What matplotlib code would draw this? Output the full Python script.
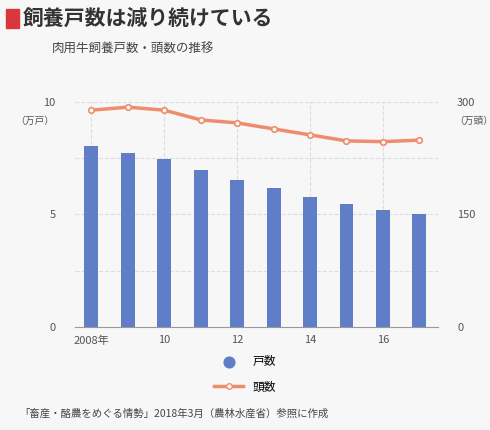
import matplotlib
matplotlib.use("Agg")
import matplotlib.pyplot as plt
from matplotlib.patches import Rectangle

plt.rcParams['font.family'] = ['Noto Sans CJK JP', 'DejaVu Sans']

years = [2008, 2009, 2010, 2011, 2012, 2013, 2014, 2015, 2016, 2017]
households = [8.04, 7.73, 7.47, 6.98, 6.53, 6.18, 5.78, 5.47, 5.2, 5.02]
heads = [289, 293, 289, 276, 272, 264, 256, 248, 247, 249]
xticks = [2008, 2010, 2012, 2014, 2016]
xlabels = ['2008年', '10', '12', '14', '16']

fig = plt.figure(figsize=(4.9, 4.3), dpi=100)
fig.patch.set_facecolor('#f7f7f7')
ax = fig.add_axes([0.153, 0.24, 0.74, 0.523])
ax.set_facecolor('#f7f7f7')
ax2 = ax.twinx()

ax.bar(years, households, width=0.38, color='#5f7ec7', zorder=2)
ax2.plot(years, heads, color='#ee8d6d', lw=2.5, marker='o', ms=4,
         mfc='white', mec='#ee8d6d', mew=1.2, zorder=3)

ax.set_ylim(0, 10)
ax2.set_ylim(0, 300)
ax.set_xlim(2007.55, 2017.5)
ax.set_yticks([0, 5, 10])
ax2.set_yticks([0, 150, 300])
ax.set_xticks(xticks)
ax.set_xticklabels(xlabels)
for y in [2.5, 5, 7.5, 10]:
    ax.axhline(y, color='#dddddd', ls='--', lw=0.8, zorder=0)
for x in xticks:
    ax.axvline(x, color='#dddddd', ls='--', lw=0.8, zorder=0)
for a in (ax, ax2):
    for s in a.spines.values():
        s.set_visible(False)
    a.tick_params(length=0, labelsize=8, colors='#555555')
ax.spines['bottom'].set_visible(True)
ax.spines['bottom'].set_color('#999999')
ax.tick_params(axis='x', pad=6)
ax.tick_params(axis='y', pad=14)
ax2.tick_params(axis='y', pad=14)
ax.text(-0.11, 0.90, '（万戸）', transform=ax.transAxes, fontsize=7, color='#555555', ha='center')
ax2.text(1.1, 0.90, '（万頭）', transform=ax.transAxes, fontsize=7, color='#555555', ha='center')

fig.patches.append(Rectangle((0.012, 0.935), 0.027, 0.045, transform=fig.transFigure, color='#d9383a'))
fig.text(0.047, 0.957, '飼養戸数は減り続けている', fontsize=15, fontweight='bold', va='center', color='#333333')
fig.text(0.105, 0.885, '肉用牛飼養戸数・頭数の推移', fontsize=9, va='center', color='#444444')

ax.scatter([], [], color='#5f7ec7', s=60, label='戸数')
ax.plot([], [], color='#ee8d6d', lw=2.5, marker='o', ms=4, mfc='white', mec='#ee8d6d', label='頭数')
fig.legend(*ax.get_legend_handles_labels(), loc='center', bbox_to_anchor=(0.5, 0.13),
           frameon=False, fontsize=8.5, labelspacing=1.1, handlelength=2.5)
fig.text(0.04, 0.03, '「畜産・酪農をめぐる情勢」2018年3月（農林水産省）参照に作成', fontsize=7.5, color='#444444')
fig.savefig('out.png', dpi=100, facecolor=fig.get_facecolor())
